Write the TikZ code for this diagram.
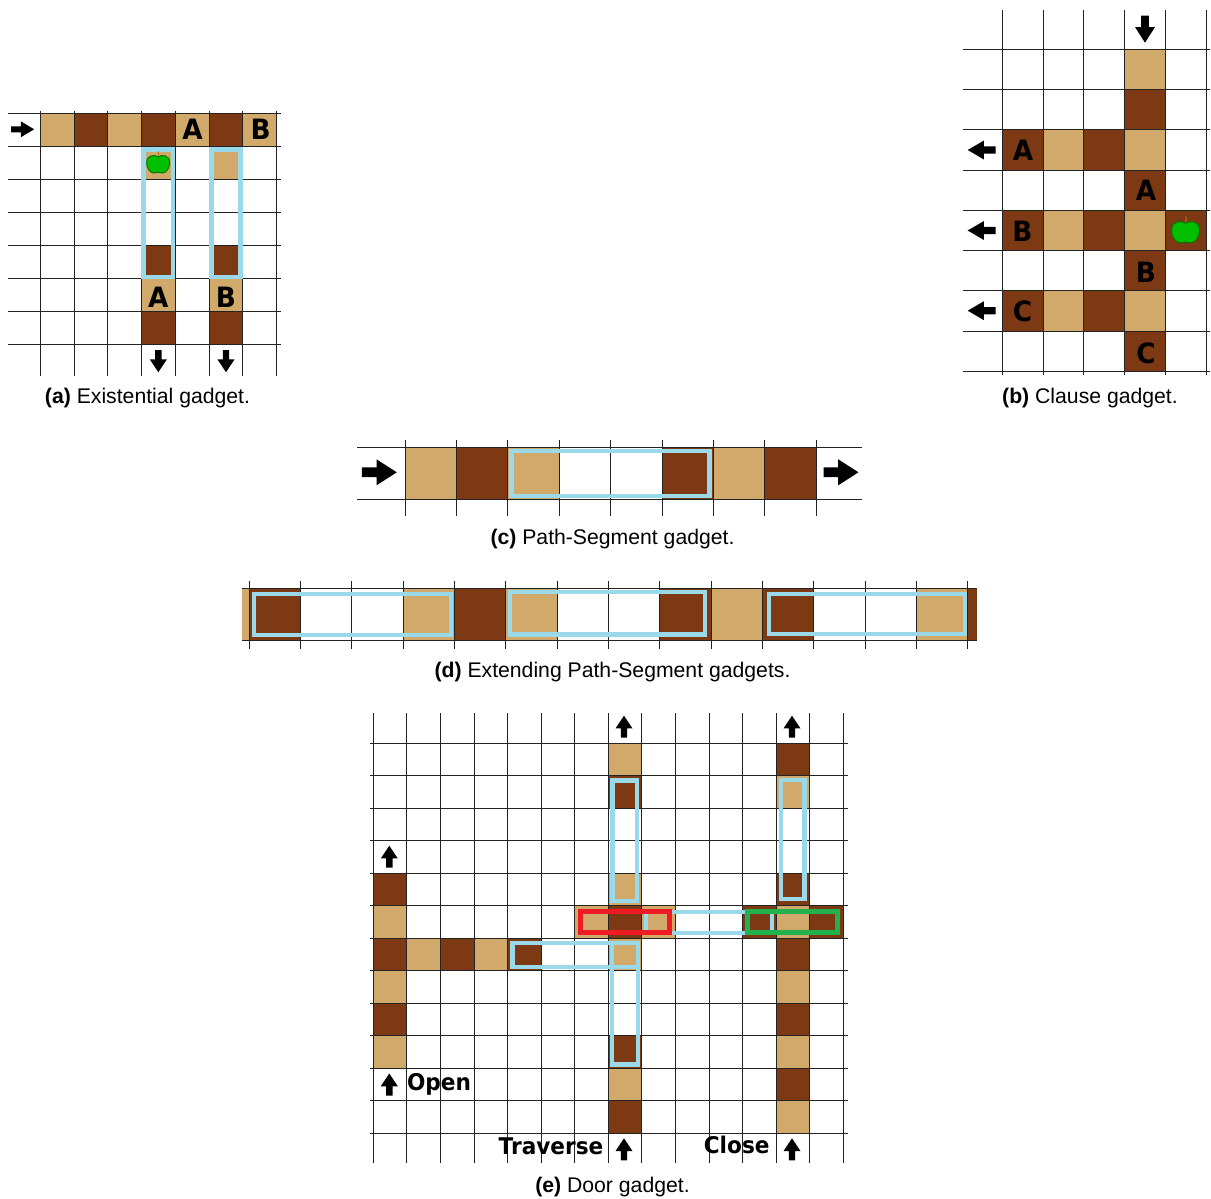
\documentclass[tikz,border=0pt]{standalone}
\usepackage{fontspec}
\setmainfont{Liberation Sans}
\newfontfamily\labfont{DejaVu Sans}
\definecolor{tancell}{RGB}{209,170,107}
\definecolor{browncell}{RGB}{125,56,20}
\definecolor{framblue}{RGB}{153,217,234}
\definecolor{framred}{RGB}{237,28,36}
\definecolor{framgreen}{RGB}{34,177,76}
\definecolor{applefill}{RGB}{0,190,0}
\definecolor{appleedge}{RGB}{0,120,0}
\definecolor{applestem}{RGB}{175,130,20}
\definecolor{gridline}{RGB}{35,35,35}
\tikzset{
  gridrule/.style={draw=gridline,line width=1pt},
  tancellstyle/.style={fill=tancell},
  browncellstyle/.style={fill=browncell},
  bluefr/.style={draw=framblue,line width=4.4pt,line join=miter},
  redfr/.style={draw=framred,line width=4.6pt},
  greenfr/.style={draw=framgreen,line width=4.6pt},
  letter/.style={inner sep=0pt,xscale=0.94,transform shape,font=\labfont\bfseries\fontsize{28}{28}\selectfont},
  biglabel/.style={inner sep=0pt,anchor=base,xscale=0.94,transform shape,font=\labfont\bfseries\fontsize{23}{24}\selectfont},
  capt/.style={inner sep=0pt,anchor=base,font=\fontsize{21.2}{24}\selectfont},
  arrowfill/.style={fill=black}
}
% centre x, centre y, rotation, length, head width
\newcommand{\blockarrow}[5]{%
  \fill[arrowfill,shift={(#1,#2)},rotate=#3]
    (-#4/2,-#5*0.19) -- (-#4*0.08,-#5*0.19) -- (-#4*0.08,-#5/2) -- (#4/2,0)
    -- (-#4*0.08,#5/2) -- (-#4*0.08,#5*0.19) -- (-#4/2,#5*0.19) -- cycle;}
\newcommand{\applemark}[3]{%
  \begin{scope}[shift={(#1,#2)},scale=#3]
    \draw[applestem,line width=1pt] (0,-6) -- (0.6,-13);
    \draw[fill=applefill,draw=appleedge,line width=1pt]
      (0,-7.5) .. controls (3,-10) and (11.5,-10) .. (11.5,-2)
      .. controls (11.5,3) and (8.5,8.5) .. (4,8.5) .. controls (2,8.5) and (1.5,7.8) .. (0,7.8)
      .. controls (-1.5,7.8) and (-2,8.5) .. (-4,8.5) .. controls (-8.5,8.5) and (-11.5,3) .. (-11.5,-2)
      .. controls (-11.5,-10) and (-3,-10) .. (0,-7.5) -- cycle;
  \end{scope}}
\newcommand{\tancells}[1]{\foreach \c/\r in {#1} \fill[tancellstyle] (\c,\r) rectangle ++(1,1);}
\newcommand{\browncells}[1]{\foreach \c/\r in {#1} \fill[browncellstyle] (\c,\r) rectangle ++(1,1);}
\begin{document}
\begin{tikzpicture}[x=1pt,y=-1pt]
\useasboundingbox (0,0) rectangle (1211,1199);
\fill[white] (0,0) rectangle (1211,1199);

% ---------- (a)
\begin{scope}[shift={(40.4,113.3)},x=33.72pt,y=-33pt]
  \tancells{0/0,2/0,4/0,6/0,3/1,5/1,3/5,5/5}
  \browncells{1/0,3/0,5/0,3/4,5/4,3/6,5/6}
  \foreach \r in {0,...,7} \draw[gridrule] (-0.96,\r) -- (7.14,\r);
  \foreach \c in {0,...,7} \draw[gridrule] (\c,-0.08) -- (\c,7.96);
\end{scope}
\draw[bluefr] (143.6,149.4) rectangle (173.1,277.1);
\draw[bluefr] (211.5,149.4) rectangle (240.5,277.1);
\applemark{158.2}{164.5}{1}
\node[letter] (aA1) at (192.5,129.5) {A};
\node[letter] (aB1) at (260.7,129.5) {B};
\node[letter] (aA2) at (158.3,297) {A};
\node[letter] (aB2) at (226,297) {B};
\blockarrow{22.6}{129.3}{0}{23}{16}
\blockarrow{158.3}{361.2}{-90}{22}{17}
\blockarrow{226}{361.2}{-90}{22}{17}
\node[capt] (capa) at (147.5,403) {\textbf{(a)} Existential gadget.};

% ---------- (b)
\begin{scope}[shift={(1002.3,49.3)},x=40.8pt,y=-40.25pt]
  \tancells{3/0,3/2,1/2,3/4,1/4,3/6,1/6}
  \browncells{3/1,0/2,2/2,3/3,0/4,2/4,4/4,3/5,0/6,2/6,3/7}
  \foreach \r in {0,...,8} \draw[gridrule] (-0.96,\r) -- (5.1,\r);
  \foreach \c in {0,...,5} \draw[gridrule] (\c,-0.97) -- (\c,8.09);
\end{scope}
\applemark{1185.5}{232.5}{1.22}
\node[letter] (bA1) at (1023,150) {A};
\node[letter] (bB1) at (1022.5,231) {B};
\node[letter] (bC1) at (1022.5,311) {C};
\node[letter] (bA2) at (1146,190) {A};
\node[letter] (bB2) at (1146,272) {B};
\node[letter] (bC2) at (1146,353) {C};
\blockarrow{1145}{29.2}{-90}{27}{20}
\blockarrow{981.7}{150}{180}{28}{19}
\blockarrow{981.7}{230.5}{180}{28}{19}
\blockarrow{981.7}{310.7}{180}{28}{19}
\node[capt] (capb) at (1090,403) {\textbf{(b)} Clause gadget.};

% ---------- (c)
\begin{scope}[shift={(405.3,447.3)},x=51.34pt,y=-52pt]
  \tancells{0/0,2/0,6/0}
  \browncells{1/0,5/0,7/0}
  \foreach \r in {0,1} \draw[gridrule] (-0.94,\r) -- (8.89,\r);
  \foreach \c in {0,...,8} \draw[gridrule] (\c,-0.14) -- (\c,1.33);
\end{scope}
\draw[bluefr] (511.5,451.2) rectangle (709.5,496.2);
\blockarrow{379.3}{472.3}{0}{35}{26}
\blockarrow{841}{472.3}{0}{35}{26}
\node[capt] (capc) at (612.5,544) {\textbf{(c)} Path-Segment gadget.};

% ---------- (d)
\begin{scope}[shift={(249.3,588.7)},x=51.31pt,y=-51.6pt]
  \fill[tancellstyle] (-0.142,0) rectangle (0,1);
  \tancells{3/0,5/0,9/0,13/0}
  \browncells{0/0,4/0,8/0,10/0}
  \fill[browncellstyle] (14,0) rectangle (14.175,1);
  \foreach \r in {0,1} \draw[gridrule] (-0.142,\r) -- (14.175,\r);
  \foreach \c in {0,...,14} \draw[gridrule] (\c,-0.15) -- (\c,1.16);
\end{scope}
\draw[bluefr] (253.8,593.7) rectangle (451.2,634.7);
\draw[bluefr] (510,592) rectangle (704.8,634.5);
\draw[bluefr] (769.2,593.7) rectangle (965,634);
\node[capt] (capd) at (612.5,677) {\textbf{(d)} Extending Path-Segment gadgets.};

% ---------- (e)
\begin{scope}[shift={(373.3,743.3)},x=33.57pt,y=-32.5pt]
  \tancells{7/0,7/4,7/6,7/10,12/1,12/5,12/7,12/9,12/11,0/5,0/7,0/9,1/6,3/6,6/5,8/5}
  \browncells{7/1,7/5,7/9,7/11,12/0,12/4,12/6,12/8,12/10,0/4,0/6,0/8,2/6,4/6,11/5,13/5}
  \foreach \r in {0,...,12} \draw[gridrule] (-0.1,\r) -- (14.14,\r);
  \foreach \c in {0,...,14} \draw[gridrule] (\c,-0.93) -- (\c,12.92);
\end{scope}
\draw[bluefr] (612.3,780.5) rectangle (637,901);
\draw[bluefr] (781,780) rectangle (804.5,899);
\draw[bluefr,line width=3.8pt] (646,911.7) rectangle (772.3,932.7);
\draw[bluefr] (512.3,943.2) rectangle (637.7,966.8);
\draw[bluefr] (611.8,943.2) rectangle (637.7,1064.5);
\draw[redfr] (580.6,911.7) rectangle (669.4,932.7);
\draw[greenfr] (747.3,911.7) rectangle (837.7,932.7);
\blockarrow{624}{726.7}{90}{22}{17}
\blockarrow{792}{726.7}{90}{22}{17}
\blockarrow{389.3}{856.7}{90}{22}{17}
\blockarrow{389.3}{1084.5}{90}{22}{17}
\blockarrow{624}{1149.3}{90}{22}{17}
\blockarrow{792}{1149.3}{90}{22}{17}
\node[biglabel] (lopen) at (439,1090) {Open};
\node[biglabel] (ltrav) at (551,1154.3) {Traverse};
\node[biglabel] (lclose) at (736.7,1153) {Close};
\node[capt] (cape) at (612.5,1192) {\textbf{(e)} Door gadget.};
\end{tikzpicture}
\end{document}
